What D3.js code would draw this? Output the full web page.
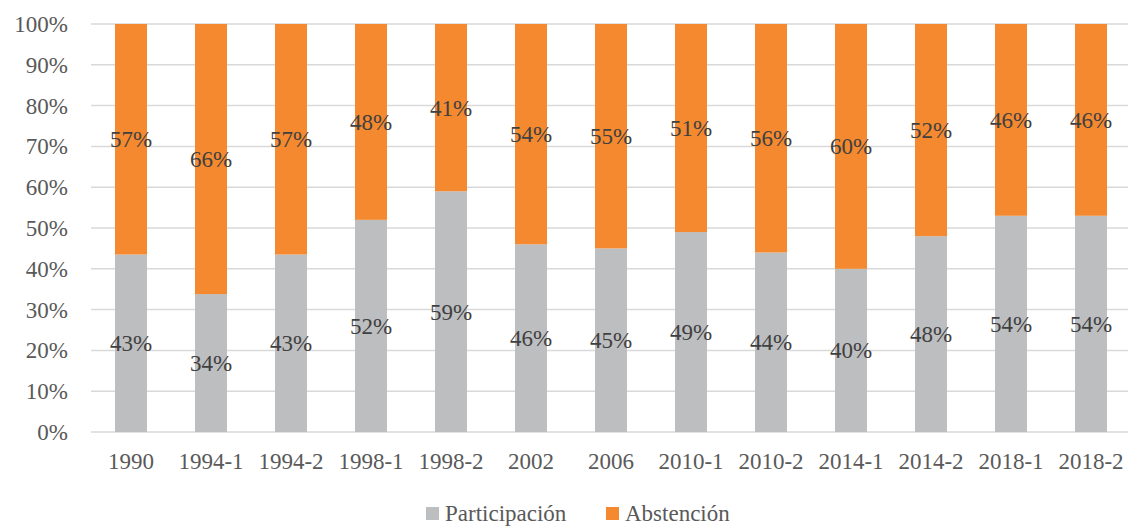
<!DOCTYPE html>
<html>
<head>
<meta charset="utf-8">
<script src="https://cdn.jsdelivr.net/npm/d3@7"></script>
<style>
  body { margin: 0; background: #fff; }
  svg text { font-family: "Liberation Serif", "Times New Roman", serif !important; }
</style>
</head>
<body>
<svg id="chart" width="1128" height="527"></svg>
<script>
// data
var categories = ["1990","1994-1","1994-2","1998-1","1998-2","2002","2006","2010-1","2010-2","2014-1","2014-2","2018-1","2018-2"];
var participacion = [43.5, 33.8, 43.5, 52, 59, 46, 45, 49, 44, 40, 48, 53, 53];
var abstencion = participacion.map(function(p){ return 100 - p; });
var labelsPart = ["43%","34%","43%","52%","59%","46%","45%","49%","44%","40%","48%","54%","54%"];
var labelsAbst = ["57%","66%","57%","48%","41%","54%","55%","51%","56%","60%","52%","46%","46%"];
var yTicks = [0,10,20,30,40,50,60,70,80,90,100];
var seriesNames = ["Participación","Abstención"];
var colors = ["#bdbec0","#f4892f"];

var svg = d3.select("#chart");
var m = {left: 91, right: -3, top: 24, bottom: 95};
var W = 1128, H = 527;
var font = "Liberation Serif", fs = 23, txtColor = "#595959";

var x = d3.scaleBand().domain(categories).range([m.left, W - m.right]).paddingInner(0.6).paddingOuter(0.3);
var y = d3.scaleLinear().domain([0,100]).range([H - m.bottom, m.top]);

function label(sel) {
  return sel.style("font-family", "'Liberation Serif', 'Times New Roman', serif").attr("font-size", fs);
}

// gridlines
svg.append("g").selectAll("line").data(yTicks).enter().append("line")
  .attr("x1", m.left).attr("x2", W)
  .attr("y1", function(d){return y(d);}).attr("y2", function(d){return y(d);})
  .attr("stroke", "#d9d9d9").attr("stroke-width", 1.5);

// y labels
svg.append("g").selectAll("text").data(yTicks).enter().append("text")
  .attr("x", 68).attr("y", function(d){return y(d);}).attr("dy", "0.35em")
  .attr("text-anchor", "end").attr("fill", txtColor).call(label)
  .text(function(d){return d + "%";});

var stackData = categories.map(function(c,i){ return {cat:c, p:participacion[i], a:abstencion[i], lp:labelsPart[i], la:labelsAbst[i]}; });

var g = svg.append("g").selectAll("g").data(stackData).enter().append("g");
g.append("rect").attr("x", function(d){return x(d.cat);}).attr("width", x.bandwidth())
  .attr("y", function(d){return y(d.p);}).attr("height", function(d){return y(0) - y(d.p);})
  .attr("fill", colors[0]);
g.append("rect").attr("x", function(d){return x(d.cat);}).attr("width", x.bandwidth())
  .attr("y", function(d){return y(d.p + d.a);}).attr("height", function(d){return y(d.p) - y(d.p + d.a);})
  .attr("fill", colors[1]);
g.append("text").attr("x", function(d){return x(d.cat) + x.bandwidth()/2;})
  .attr("y", function(d){return y(d.p/2);}).attr("dy","0.35em").attr("text-anchor","middle")
  .attr("fill", "#404040").call(label).text(function(d){return d.lp;});
g.append("text").attr("x", function(d){return x(d.cat) + x.bandwidth()/2;})
  .attr("y", function(d){return y(d.p + d.a/2);}).attr("dy","0.35em").attr("text-anchor","middle")
  .attr("fill", "#404040").call(label).text(function(d){return d.la;});

// x labels
svg.append("g").selectAll("text").data(categories).enter().append("text")
  .attr("x", function(d){return x(d) + x.bandwidth()/2;}).attr("y", 461).attr("dy","0.35em")
  .attr("text-anchor","middle").attr("fill", txtColor).call(label)
  .text(function(d){return d;});

// legend
var legX = [426, 606];
var leg = svg.append("g").selectAll("g").data(seriesNames).enter().append("g")
  .attr("transform", function(d,i){return "translate(" + legX[i] + ",513)";});
leg.append("rect").attr("x",0).attr("y",-6).attr("width",13).attr("height",13)
  .attr("fill", function(d,i){return colors[i];});
leg.append("text").attr("x",19).attr("y",0).attr("dy","0.35em")
  .attr("fill", txtColor).call(label).text(function(d){return d;});
</script>
</body>
</html>
